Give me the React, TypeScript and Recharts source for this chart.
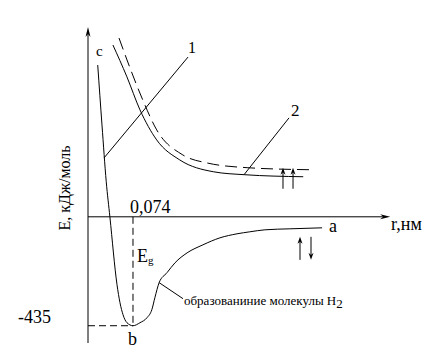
import { LineChart, Line, XAxis, YAxis, ReferenceLine } from 'recharts'

// r in nm, E in kJ/mol
const curveR = [0.016, 0.023, 0.030, 0.036, 0.0477, 0.0526, 0.0576, 0.0641, 0.074, 0.0855, 0.097, 0.105, 0.110, 0.117, 0.130, 0.143, 0.163, 0.189, 0.217, 0.245, 0.266, 0.291, 0.332, 0.385]
const curveE = [606, 367, 140, 0, -271, -343, -391, -423, -435, -423, -403, -371, -323, -263, -223, -184, -144, -112, -84, -68, -60, -52, -48, -44]

const upperR = [0.041, 0.064, 0.0855, 0.113, 0.151, 0.206, 0.258, 0.354]
const upperE = [686, 559, 427, 307, 227, 180, 168, 160]

const dashedR = [0.051, 0.069, 0.090, 0.113, 0.156, 0.196, 0.263, 0.365]
const dashedE = [714, 595, 467, 347, 247, 215, 196, 188]

const rMin = 0.074
const eMin = -435

const toPoints = (rs: number[], es: number[]) => rs.map((r, i) => ({ r, E: es[i] }))

const arrow = (len: number, half: number) => (p: any) => {
  const { x1, y1, x2, y2 } = p
  const a = Math.atan2(y2 - y1, x2 - x1)
  const c = Math.cos(a), s = Math.sin(a)
  const bx = x2 - len * c, by = y2 - len * s
  const mx = x2 - len * 0.7 * c, my = y2 - len * 0.7 * s
  const nx = -s * half, ny = c * half
  return (
    <g>
      <line x1={x1} y1={y1} x2={mx} y2={my} stroke="#000" strokeWidth={1} />
      <path d={`M${x2},${y2} L${bx + nx},${by + ny} L${mx},${my} L${bx - nx},${by - ny} Z`} fill="#000" />
    </g>
  )
}

const plain = (p: any) => <line x1={p.x1} y1={p.y1} x2={p.x2} y2={p.y2} stroke="#000" strokeWidth={1} strokeDasharray={p.strokeDasharray} />

const serif = { fontFamily: '"Liberation Serif", "Times New Roman", serif' }

export default function App() {
  return (
    <div style={{ position: 'absolute', left: 0, top: 0, background: '#fff' }}>
      <LineChart width={430} height={363} margin={{ top: 27, right: 38, bottom: 20, left: 88 }}>
        <XAxis type="number" dataKey="r" domain={[0, 0.5]} allowDataOverflow hide />
        <YAxis type="number" dataKey="E" domain={[-504, 758]} allowDataOverflow hide />

        {/* axes */}
        <ReferenceLine segment={[{ x: 0, y: -504 }, { x: 0, y: 758 }]} shape={arrow(10, 2.5)} ifOverflow="visible" />
        <ReferenceLine segment={[{ x: 0, y: 0 }, { x: 0.497, y: 0 }]} shape={arrow(10, 2.5)} ifOverflow="visible" />

        {/* guides to the minimum */}
        <ReferenceLine segment={[{ x: rMin, y: 0 }, { x: rMin, y: eMin }]} shape={plain} strokeDasharray="7 4" />
        <ReferenceLine segment={[{ x: 0, y: eMin }, { x: rMin, y: eMin }]} shape={plain} strokeDasharray="7 4" />

        {/* pointer lines */}
        <ReferenceLine segment={[{ x: 0.0263, y: 235 }, { x: 0.1645, y: 638 }]} shape={plain} />
        <ReferenceLine segment={[{ x: 0.2566, y: 168 }, { x: 0.3306, y: 395 }]} shape={plain} />
        <ReferenceLine segment={[{ x: 0.117, y: -263 }, { x: 0.1563, y: -327 }]} shape={plain} />

        {/* spins */}
        <ReferenceLine segment={[{ x: 0.3207, y: 112 }, { x: 0.3207, y: 196 }]} shape={arrow(7, 2.5)} />
        <ReferenceLine segment={[{ x: 0.3372, y: 112 }, { x: 0.3372, y: 196 }]} shape={arrow(7, 2.5)} />
        <ReferenceLine segment={[{ x: 0.3487, y: -172 }, { x: 0.3487, y: -80 }]} shape={arrow(7, 2.5)} />
        <ReferenceLine segment={[{ x: 0.3668, y: -80 }, { x: 0.3668, y: -172 }]} shape={arrow(7, 2.5)} />

        <Line data={toPoints(dashedR, dashedE)} dataKey="E" type="monotone" stroke="#000" strokeWidth={1} strokeDasharray="12 6" dot={false} isAnimationActive={false} />
        <Line data={toPoints(upperR, upperE)} dataKey="E" type="monotone" stroke="#000" strokeWidth={1} dot={false} isAnimationActive={false} />
        <Line data={toPoints(curveR, curveE)} dataKey="E" type="monotone" stroke="#000" strokeWidth={1} dot={false} isAnimationActive={false} />

        <g fill="#000">
          <text style={serif} x={70} y={188} fontSize={16} textAnchor="middle" transform="rotate(-90, 70, 188)">E, кДж/моль</text>
          <text style={serif} x={96} y={56} fontSize={15}>c</text>
          <text style={serif} x={188} y={53} fontSize={16}>1</text>
          <text style={serif} x={291} y={116} fontSize={17}>2</text>
          <text style={serif} x={130} y={213} fontSize={18}>0,074</text>
          <text style={serif} x={137} y={262} fontSize={18}>E<tspan fontSize={11} dy={2}>g</tspan></text>
          <text style={serif} x={128} y={345} fontSize={18}>b</text>
          <text style={serif} x={18} y={323} fontSize={18}>-435</text>
          <text style={serif} x={329} y={232} fontSize={18}>a</text>
          <text style={serif} x={391} y={230} fontSize={18}>r,нм</text>
          <text style={serif} x={184} y={305} fontSize={13}>образованиние молекулы H<tspan fontSize={13} dy={3}>2</tspan></text>
        </g>
      </LineChart>
    </div>
  )
}
